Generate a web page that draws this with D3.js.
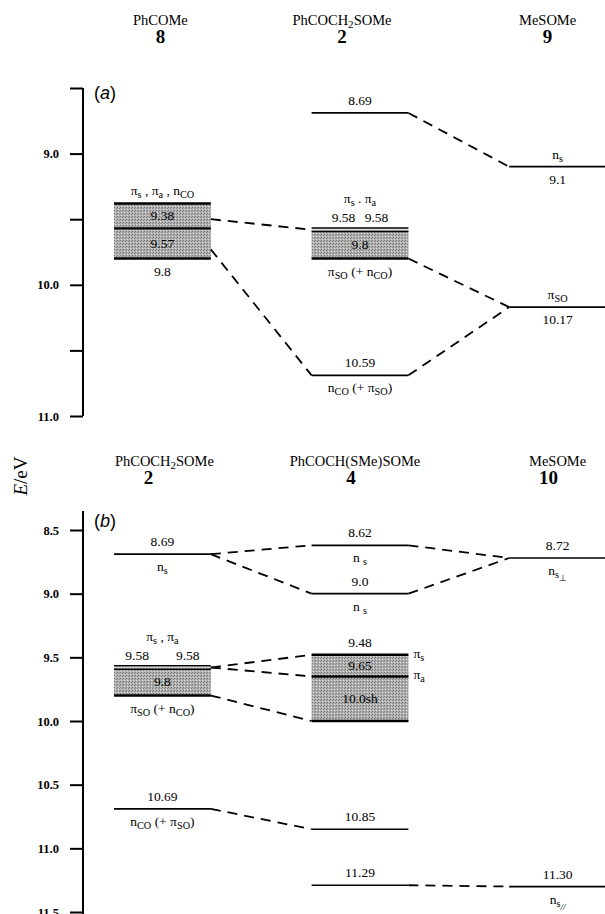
<!DOCTYPE html>
<html>
<head>
<meta charset="utf-8">
<script src="https://cdn.jsdelivr.net/npm/d3@7"></script>
<style>
  body { margin: 0; background: #fff; }
  svg { display: block; font-family: "Liberation Serif", "Times New Roman", serif; }
</style>
</head>
<body>
<svg id="chart" width="605" height="914"></svg>
<script>
// ---- data ----
// text markup: {..} = subscript, [..] = second-level subscript
var colsA = ["PhCOMe", "PhCOCH{2}SOMe", "MeSOMe"];
var numsA = ["8", "2", "9"];
var colsB = ["PhCOCH{2}SOMe", "PhCOCH(SMe)SOMe", "MeSOMe"];
var numsB = ["2", "4", "10"];

var ticksA = [8.5, 9.0, 9.5, 10.0, 10.5, 11.0];
var tickLabelsA = ["", "9.0", "", "10.0", "", "11.0"];
var ticksB = [8.5, 9.0, 9.5, 10.0, 10.5, 11.0, 11.5];
var tickLabelsB = ["8.5", "9.0", "9.5", "10.0", "10.5", "11.0", "11.5"];

// energy levels (eV); col = compound column
var levelsA = [
    { col: 0, e: 9.38 }, { col: 0, e: 9.57 }, { col: 0, e: 9.8 },
    { col: 1, e: 8.69 }, { col: 1, e: 9.58 }, { col: 1, e: 9.58 }, { col: 1, e: 9.8 },
    { col: 1, e: 10.69 },          // labelled 10.59 but drawn at this height in the figure
    { col: 2, e: 9.1 }, { col: 2, e: 10.17 }
];
var bandsA = [
    { col: 0, from: 9.38, to: 9.8 },
    { col: 1, from: 9.58, to: 9.8 }
];
var linksA = [
    { c1: 0, e1: 9.5, c2: 1, e2: 9.58 },
    { c1: 0, e1: 9.73, c2: 1, e2: 10.69 },
    { c1: 1, e1: 8.69, c2: 2, e2: 9.1 },
    { c1: 1, e1: 9.8, c2: 2, e2: 10.17 },
    { c1: 1, e1: 10.69, c2: 2, e2: 10.17 }
];
var labelsA = [
    { col: 0, e: 9.38, place: "above", text: "π{s} , π{a} , n{CO}" },
    { col: 0, e: 9.38, e2: 9.57, place: "inside", text: "9.38" },
    { col: 0, e: 9.57, e2: 9.8, place: "inside", text: "9.57" },
    { col: 0, e: 9.8, place: "below", text: "9.8" },
    { col: 1, e: 8.69, place: "above", text: "8.69" },
    { col: 1, e: 9.58, place: "above2", text: "π{s} . π{a}" },
    { col: 1, e: 9.58, place: "above", text: "9.58\u2002\u20099.58" },
    { col: 1, e: 9.58, e2: 9.8, place: "inside", text: "9.8" },
    { col: 1, e: 9.8, place: "below", text: "π{SO} (+ n{CO})" },
    { col: 1, e: 10.69, place: "above", text: "10.59" },
    { col: 1, e: 10.69, place: "below", text: "n{CO} (+ π{SO})" },
    { col: 2, e: 9.1, place: "above", text: "n{s}" },
    { col: 2, e: 9.1, place: "below", text: "9.1" },
    { col: 2, e: 10.17, place: "above", text: "π{SO}" },
    { col: 2, e: 10.17, place: "below", text: "10.17" }
];

var levelsB = [
    { col: 0, e: 8.69 }, { col: 0, e: 9.58 }, { col: 0, e: 9.58 }, { col: 0, e: 9.8 }, { col: 0, e: 10.69 },
    { col: 1, e: 8.62 }, { col: 1, e: 9.0 }, { col: 1, e: 9.48 }, { col: 1, e: 9.65 },
    { col: 1, e: 10.0 }, { col: 1, e: 10.85 }, { col: 1, e: 11.29 },
    { col: 2, e: 8.72 }, { col: 2, e: 11.30 }
];
var bandsB = [
    { col: 0, from: 9.58, to: 9.8 },
    { col: 1, from: 9.48, to: 10.0 }
];
var linksB = [
    { c1: 0, e1: 8.69, c2: 1, e2: 8.62 },
    { c1: 0, e1: 8.69, c2: 1, e2: 9.0 },
    { c1: 0, e1: 9.58, c2: 1, e2: 9.48 },
    { c1: 0, e1: 9.58, c2: 1, e2: 9.65 },
    { c1: 0, e1: 9.8, c2: 1, e2: 10.0 },
    { c1: 0, e1: 10.69, c2: 1, e2: 10.85 },
    { c1: 1, e1: 8.62, c2: 2, e2: 8.72 },
    { c1: 1, e1: 9.0, c2: 2, e2: 8.72 },
    { c1: 1, e1: 11.29, c2: 2, e2: 11.30 }
];
var labelsB = [
    { col: 0, e: 8.69, place: "above", text: "8.69" },
    { col: 0, e: 8.69, place: "below", text: "n{s}" },
    { col: 0, e: 9.58, place: "above2", text: "π{s} , π{a}" },
    { col: 0, e: 9.58, place: "above", text: "9.58\u2002\u2002\u2002\u20029.58" },
    { col: 0, e: 9.58, e2: 9.8, place: "inside", text: "9.8" },
    { col: 0, e: 9.8, place: "below", text: "π{SO} (+ n{CO})" },
    { col: 0, e: 10.69, place: "above", text: "10.69" },
    { col: 0, e: 10.69, place: "below", text: "n{CO} (+ π{SO})" },
    { col: 1, e: 8.62, place: "above", text: "8.62" },
    { col: 1, e: 8.62, place: "below", text: "n {s}" },
    { col: 1, e: 9.0, place: "above", text: "9.0" },
    { col: 1, e: 9.0, place: "below", text: "n {s}" },
    { col: 1, e: 9.48, place: "above", text: "9.48" },
    { col: 1, e: 9.48, place: "right", text: "π{s}" },
    { col: 1, e: 9.48, e2: 9.65, place: "inside", text: "9.65" },
    { col: 1, e: 9.65, place: "right", text: "π{a}" },
    { col: 1, e: 9.65, e2: 10.0, place: "inside", text: "10.0sh" },
    { col: 1, e: 10.85, place: "above", text: "10.85" },
    { col: 1, e: 11.29, place: "above", text: "11.29" },
    { col: 2, e: 8.72, place: "above", text: "8.72" },
    { col: 2, e: 8.72, place: "below", text: "n{s}[⊥]" },
    { col: 2, e: 11.30, place: "above", text: "11.30" },
    { col: 2, e: 11.30, place: "below", text: "n{s}[//]" }
];

// ---- layout ----
var svg = d3.select("#chart");
var axisX = 83;

var x = d3.scaleBand().domain([0, 1, 2]).range([114, 606]).paddingInner(0.51).paddingOuter(0);
var bw = x.bandwidth();

var yA = d3.scaleLinear().domain([8.5, 11.0]).range([88, 416]);
var yB = d3.scaleLinear().domain([8.5, 11.5]).range([530, 912]);

// writes "a{b}[c]" markup into a text element as tspans
function rich(sel, str) {
    var parts = str.match(/\{[^}]*\}|\[[^\]]*\]|[^{\[]+/g);
    var shift = 0;
    parts.forEach(function (p) {
        var lvl = 0, t = p;
        if (p[0] == "{") { lvl = 1; t = p.slice(1, -1); }
        else if (p[0] == "[") { lvl = 2; t = p.slice(1, -1); }
        var target = lvl == 0 ? 0 : (lvl == 1 ? 3 : 6);
        var ts = sel.append("tspan").attr("dy", target - shift).text(t);
        if (lvl == 1) ts.attr("font-size", "76%");
        if (lvl == 2) ts.attr("font-size", "68%");
        if (t == "//") ts.attr("font-style", "italic");
        shift = target;
    });
}

// header nudges relative to the column centre (the captions are not quite centred in the figure)
function drawHeaders(cols, nums, base, dx, ndx) {
    cols.forEach(function (c, i) {
        var cx = x(i) + bw / 2 + dx[i];
        var t = svg.append("text").attr("x", cx).attr("y", base)
            .attr("text-anchor", "middle").attr("font-size", 14.5);
        rich(t, c);
        svg.append("text").attr("x", cx + ndx[i]).attr("y", base + 18)
            .attr("text-anchor", "middle").attr("font-size", 19).attr("font-weight", "bold")
            .text(nums[i]);
    });
}

function drawAxis(y, ticks, tickLabels, top, bottom) {
    var g = svg.append("g").attr("transform", "translate(" + axisX + ",0)")
        .call(d3.axisLeft(y).tickValues(ticks).tickSize(13).tickSizeOuter(0).tickPadding(11)
            .tickFormat(function (d, i) { return tickLabels[i]; }));
    g.select(".domain").remove();
    g.selectAll(".tick line").attr("stroke", "#000").attr("stroke-width", 2);
    g.selectAll(".tick text").attr("fill", "#000")
        .attr("font-family", "Liberation Serif, serif").attr("font-size", 12.5).attr("font-weight", "bold");
    g.append("line").attr("x1", 0).attr("x2", 0)
        .attr("y1", top).attr("y2", bottom)
        .attr("stroke", "#000").attr("stroke-width", 2);
}

function drawPanel(y, levels, bands, links, labels) {
    var g = svg.append("g");

    g.selectAll("rect.band").data(bands).join("rect")
        .attr("class", "band")
        .attr("x", function (d) { return x(d.col); })
        .attr("y", function (d) { return y(d.from); })
        .attr("width", bw)
        .attr("height", function (d) { return y(d.to) - y(d.from); })
        .attr("fill", "url(#stipple)");

    // duplicated levels (degenerate) are drawn as a double line
    var counts = {};
    levels.forEach(function (d) {
        var k = d.col + "_" + d.e;
        d.k = counts[k] || 0;
        counts[k] = d.k + 1;
    });
    function inBand(d) {
        return bands.some(function (b) { return b.col == d.col && d.e >= b.from && d.e <= b.to; });
    }
    function ly(d) {
        var n = counts[d.col + "_" + d.e];
        return y(d.e) + (n > 1 ? (d.k - 0.5) * 3.5 : 0);
    }
    g.selectAll("line.level").data(levels).join("line")
        .attr("class", "level")
        .attr("x1", function (d) { return x(d.col); })
        .attr("x2", function (d) { return x(d.col) + bw; })
        .attr("y1", ly)
        .attr("y2", ly)
        .attr("stroke", "#000")
        .attr("stroke-width", function (d) { return counts[d.col + "_" + d.e] > 1 ? 1.6 : (inBand(d) ? 2.4 : 1.7); });

    g.selectAll("line.link").data(links).join("line")
        .attr("class", "link")
        .attr("x1", function (d) { return x(d.c1) + bw; })
        .attr("y1", function (d) { return y(d.e1); })
        .attr("x2", function (d) { return x(d.c2); })
        .attr("y2", function (d) { return y(d.e2); })
        .attr("stroke", "#000").attr("stroke-width", 1.8)
        .attr("stroke-dasharray", "10,7");

    labels.forEach(function (d) {
        var cx = x(d.col) + bw / 2, ty, anchor = "middle";
        if (d.place == "above") ty = y(d.e) - 8;
        else if (d.place == "above2") ty = y(d.e) - 27;
        else if (d.place == "below") ty = y(d.e) + 17;
        else if (d.place == "inside") ty = (y(d.e) + y(d.e2)) / 2 + 4.5;
        else if (d.place == "right") { ty = y(d.e) + 3; cx = x(d.col) + bw + 5; anchor = "start"; }
        var t = g.append("text").attr("x", cx).attr("y", ty)
            .attr("text-anchor", anchor).attr("font-size", 13.5);
        rich(t, d.text);
    });
}

// halftone-like fill for the band areas
var pat = svg.append("defs").append("pattern")
    .attr("id", "stipple").attr("width", 3).attr("height", 3)
    .attr("patternUnits", "userSpaceOnUse");
pat.append("rect").attr("width", 3).attr("height", 3).attr("fill", "#b2b2b2");
pat.append("rect").attr("x", 0).attr("y", 0).attr("width", 1).attr("height", 1).attr("fill", "#707070");
pat.append("rect").attr("x", 2).attr("y", 1).attr("width", 1).attr("height", 1).attr("fill", "#828282");
pat.append("rect").attr("x", 1).attr("y", 2).attr("width", 1).attr("height", 1).attr("fill", "#dadada");

// ---- panel (a) ----
drawHeaders(colsA, numsA, 25, [-2, -18, -10], [0, 0, 0]);
drawAxis(yA, ticksA, tickLabelsA, yA(8.5), yA(11.0));
drawPanel(yA, levelsA, bandsA, linksA, labelsA);

// ---- panel (b) ----
drawHeaders(colsB, numsB, 466, [2, -5, 0], [-16, -4, -9]);
drawAxis(yB, ticksB, tickLabelsB, 511, 914);
drawPanel(yB, levelsB, bandsB, linksB, labelsB);

// panel letters
[["a", 99], ["b", 527]].forEach(function (p) {
    var t = svg.append("text").attr("x", 94).attr("y", p[1])
        .attr("font-family", "Liberation Sans, Arial, sans-serif").attr("font-size", 18);
    t.append("tspan").text("(");
    t.append("tspan").attr("font-style", "italic").text(p[0]);
    t.append("tspan").text(")");
});

// y-axis title
var yt = svg.append("text")
    .attr("transform", "translate(27,476) rotate(-90)")
    .attr("text-anchor", "middle").attr("font-size", 19);
yt.append("tspan").attr("font-style", "italic").text("E");
yt.append("tspan").text("/eV");
</script>
</body>
</html>
